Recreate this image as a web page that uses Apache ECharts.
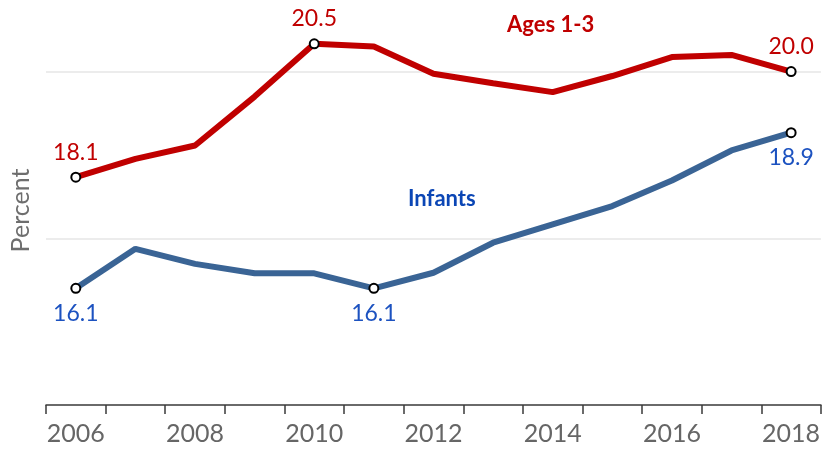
<!DOCTYPE html>
<html>
<head>
<meta charset="utf-8">
<script src="https://cdn.jsdelivr.net/npm/echarts@6/dist/echarts.min.js"></script>
<style>
  html, body { margin: 0; padding: 0; background: #fff; }
  #chart { width: 823px; height: 457px; }
</style>
</head>
<body>
<div id="chart"></div>
<script>
const years = ['2006', '2007', '2008', '2009', '2010', '2011', '2012', '2013', '2014', '2015', '2016', '2017', '2018']
// Ages 1-3
const toddlers = [18.1, 18.43, 18.67, 19.55, 20.5, 20.45, 19.96, 19.79, 19.63, 19.92, 20.26, 20.3, 20.0]
// Infants
const infants = [16.1, 16.81, 16.54, 16.37, 16.37, 16.1, 16.38, 16.92, 17.25, 17.58, 18.04, 18.58, 18.9]
// points that get a marker + value label
const toddlerMarks = [0, 4, 12]
const infantMarks = [0, 5, 12]

const FONT = 'Lato'
const RED = '#c00000'
const BLUE_LINE = '#3a6495'
const BLUE_TEXT = '#1c52c0'

function marked(values, idx, pos, color) {
  return values.map((v, i) => {
    if (!idx.includes(i)) return { value: v, symbol: 'none' }
    return {
      value: v,
      symbol: 'circle',
      symbolSize: 9,
      itemStyle: { color: '#fff', borderColor: '#000', borderWidth: 2 },
      label: {
        show: true,
        position: pos,
        distance: 8,
        color: color,
        fontFamily: FONT,
        fontSize: 23,
        formatter: (p) => p.value.toFixed(1),
      },
    }
  })
}

const chart = echarts.init(document.getElementById('chart'), null, { renderer: 'canvas' })
chart.setOption({
  animation: false,
  backgroundColor: '#fff',
  grid: { left: 44, right: 1, top: 16, bottom: 52 },
  xAxis: {
    type: 'category',
    data: years,
    boundaryGap: true,
    axisLine: { lineStyle: { color: '#3a3a3a', width: 1.5 } },
    axisTick: { show: true, interval: 0, length: 9, lineStyle: { color: '#3a3a3a', width: 1.5 } },
    axisLabel: { interval: 1, color: '#666', fontFamily: FONT, fontSize: 25, margin: 16 },
  },
  yAxis: {
    type: 'value',
    min: 14,
    max: 21,
    interval: 3,
    name: 'Percent',
    nameLocation: 'middle',
    nameGap: 13,
    nameRotate: 90,
    nameTextStyle: { color: '#6e6e6e', fontFamily: FONT, fontSize: 25 },
    axisLine: { show: false },
    axisTick: { show: false },
    axisLabel: { show: false },
    splitLine: { show: true, showMinLine: false, showMaxLine: false, lineStyle: { color: '#e6e6e6', width: 1.5 } },
  },
  series: [
    {
      name: 'Ages 1-3',
      type: 'line',
      data: marked(toddlers, toddlerMarks, 'top', RED),
      lineStyle: { color: RED, width: 6 },
      itemStyle: { color: RED },
      z: 3,
    },
    {
      name: 'Infants',
      type: 'line',
      data: marked(infants, infantMarks, 'bottom', BLUE_TEXT),
      lineStyle: { color: BLUE_LINE, width: 6 },
      itemStyle: { color: BLUE_LINE },
      z: 3,
    },
  ],
  graphic: [
    {
      type: 'text',
      left: 507,
      top: 14,
      style: { text: 'Ages 1-3', fill: RED, font: 'bold 22px Lato' },
    },
    {
      type: 'text',
      left: 408,
      top: 188,
      style: { text: 'Infants', fill: '#0b46b5', font: 'bold 22px Lato' },
    },
  ],
})
</script>
</body>
</html>
